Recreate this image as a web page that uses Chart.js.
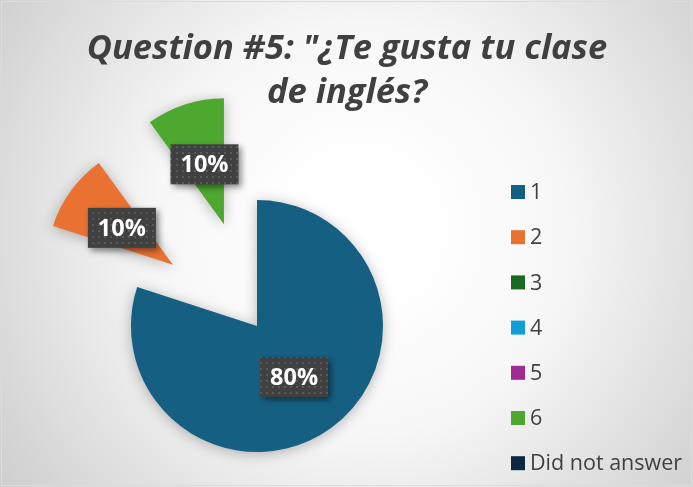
<!DOCTYPE html>
<html>
<head>
<meta charset="utf-8">
<script src="https://cdn.jsdelivr.net/npm/chart.js@4/dist/chart.umd.min.js"></script>
<style>
  html, body { margin: 0; padding: 0; background: #ffffff; }
  #wrap { width: 693px; height: 487px; }
</style>
</head>
<body>
<div id="wrap"><canvas id="myChart" width="693" height="487"></canvas></div>
<script>
// answers to question 5 (percent of students)
const categories = ['1', '2', '3', '4', '5', '6', 'Did not answer'];
const percents = [80, 10, 0, 0, 0, 10, 0];
const titleLines = ['Question #5: "¿Te gusta tu clase', 'de inglés?'];

const sliceColors = ['#156082', '#E97132', '#196B24', '#0F9ED5', '#A02B93', '#4EA72E', '#0E2841'];
const explodeDist = [0, 104, 0, 0, 0, 107, 0];
const textColor = '#404040';

// dotted fill for the value boxes
function dotPattern(ctx) {
    let c = document.createElement('canvas');
    c.width = 6;
    c.height = 6;
    let p = c.getContext('2d');
    p.fillStyle = '#404040';
    p.fillRect(0, 0, 6, 6);
    p.fillStyle = '#5a5a5a';
    p.fillRect(2, 2, 2, 2);
    return ctx.createPattern(c, 'repeat');
}

const backgroundPlugin = {
    id: 'bg',
    beforeDraw(chart) {
        const ctx = chart.ctx;
        const w = chart.width, h = chart.height;
        ctx.save();
        let g = ctx.createRadialGradient(360, 230, 60, 360, 230, 470);
        g.addColorStop(0, '#ffffff');
        g.addColorStop(0.35, '#f7f7f7');
        g.addColorStop(1, '#c9c9c9');
        ctx.fillStyle = g;
        ctx.fillRect(0, 0, w, h);
        ctx.strokeStyle = '#dcdcdc';
        ctx.lineWidth = 1;
        ctx.strokeRect(1.5, 1.5, w - 3, h - 3);
        ctx.restore();
    }
};

// title, centred on the whole picture (not on the pie)
const titlePlugin = {
    id: 'bigTitle',
    afterDraw(chart) {
        const ctx = chart.ctx;
        ctx.save();
        ctx.fillStyle = textColor;
        ctx.font = 'italic bold 34.5px "Open Sans"';
        ctx.textAlign = 'center';
        ctx.textBaseline = 'alphabetic';
        titleLines.forEach((line, i) => {
            ctx.fillText(line, 347, 59 + i * 44);
        });
        ctx.restore();
    }
};

// legend on the right, one row per category
const legendPlugin = {
    id: 'sideLegend',
    afterDraw(chart) {
        const ctx = chart.ctx;
        const colors = chart.data.datasets[0].backgroundColor;
        ctx.save();
        ctx.font = '21.5px "Open Sans"';
        ctx.textAlign = 'left';
        ctx.textBaseline = 'middle';
        chart.data.labels.forEach((label, i) => {
            const y = 192 + i * 45.2;
            ctx.fillStyle = colors[i];
            ctx.fillRect(511, y - 7, 14, 14);
            ctx.fillStyle = textColor;
            ctx.fillText(label, 530, y + 1);
        });
        ctx.restore();
    }
};

// pull some slices out of the pie
const explodePlugin = {
    id: 'explode',
    afterDatasetUpdate(chart, args) {
        args.meta.data.forEach((arc, i) => {
            const d = explodeDist[i] || 0;
            if (!d) return;
            const mid = (arc.startAngle + arc.endAngle) / 2;
            arc.x += Math.cos(mid) * d;
            arc.y += Math.sin(mid) * d;
        });
    },
    beforeDatasetDraw(chart) {
        const ctx = chart.ctx;
        ctx.save();
        ctx.shadowColor = 'rgba(0,0,0,0.28)';
        ctx.shadowBlur = 14;
        ctx.shadowOffsetY = 2;
    },
    afterDatasetDraw(chart) {
        chart.ctx.restore();
    }
};

const valueLabelPlugin = {
    id: 'valueLabels',
    afterDatasetsDraw(chart) {
        const ctx = chart.ctx;
        const meta = chart.getDatasetMeta(0);
        const pattern = dotPattern(ctx);
        meta.data.forEach((arc, i) => {
            const v = chart.data.datasets[0].data[i];
            if (!v) return;
            const pt = arc.getCenterPoint();
            const bw = 68, bh = 40;
            ctx.save();
            ctx.shadowColor = 'rgba(0,0,0,0.45)';
            ctx.shadowBlur = 6;
            ctx.shadowOffsetX = 3;
            ctx.shadowOffsetY = 3;
            ctx.fillStyle = pattern;
            ctx.fillRect(pt.x - bw / 2, pt.y - bh / 2, bw, bh);
            ctx.restore();
            ctx.save();
            ctx.fillStyle = '#ffffff';
            ctx.font = 'bold 23.5px "Open Sans"';
            ctx.textAlign = 'center';
            ctx.textBaseline = 'middle';
            ctx.fillText(v + '%', pt.x, pt.y + 1);
            ctx.restore();
        });
    }
};

let config = {
    type: 'pie',
    data: {
        labels: categories,
        datasets: [{
            data: percents,
            backgroundColor: sliceColors,
            borderWidth: 0,
            radius: 126
        }]
    },
    options: {
        responsive: false,
        animation: false,
        events: [],
        layout: {
            padding: {left: 0, right: 179, top: 165, bottom: 0}
        },
        plugins: {
            title: {display: false},
            legend: {display: false},
            tooltip: {enabled: false}
        }
    },
    plugins: [backgroundPlugin, explodePlugin, valueLabelPlugin, titlePlugin, legendPlugin]
};

let myChart = new Chart(document.getElementById('myChart'), config);
</script>
</body>
</html>
